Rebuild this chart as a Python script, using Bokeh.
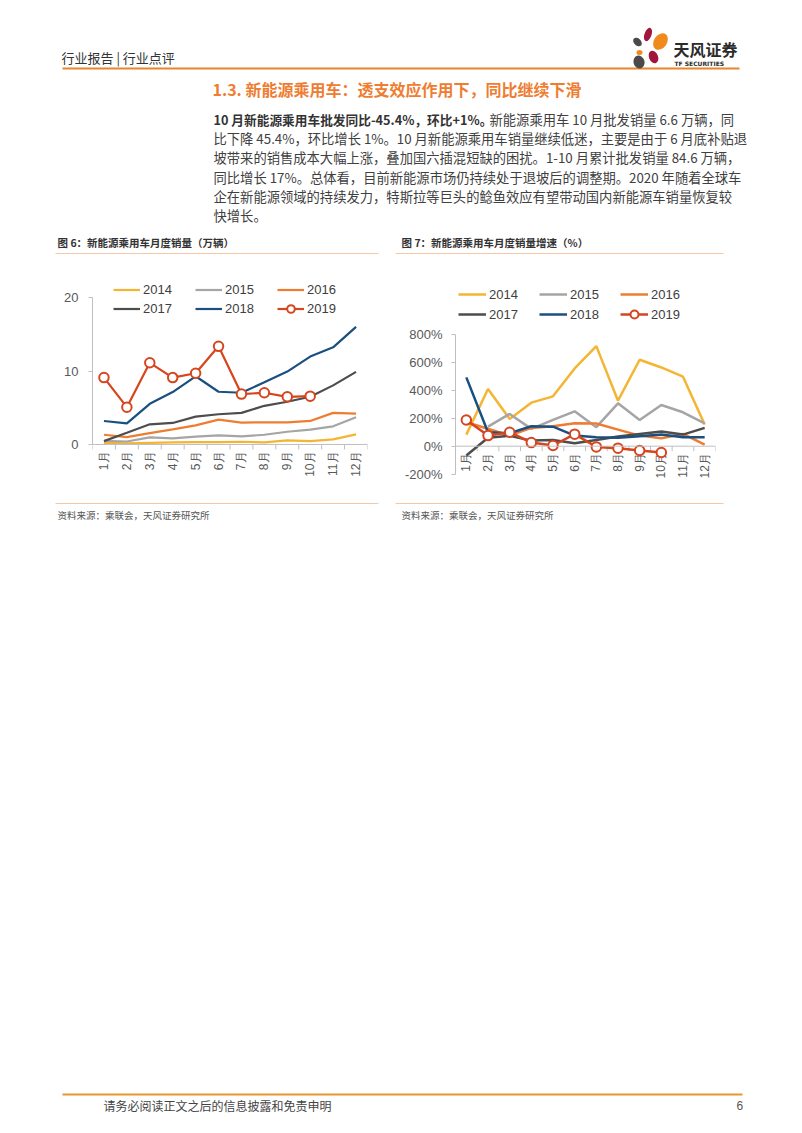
import math
from bokeh.plotting import figure
from bokeh.models import Range1d, FixedTicker, Legend, LegendItem, PrintfTickFormatter, Span
from bokeh.layouts import column, row
from bokeh.embed import file_html
from bokeh.resources import INLINE
from bokeh.core.properties import value

# ---------------- data ----------------
months = ["1月", "2月", "3月", "4月", "5月", "6月", "7月", "8月", "9月", "10月", "11月", "12月"]
month_pos = list(range(1, 13))
month_edges = [i + 0.5 for i in range(0, 13)]
years = ["2014", "2015", "2016", "2017", "2018", "2019"]

# 图6 新能源乘用车月度销量（万辆）
sales_2014 = [0.23, 0.14, 0.23, 0.28, 0.32, 0.32, 0.37, 0.28, 0.55, 0.46, 0.69, 1.38]
sales_2015 = [0.50, 0.41, 0.96, 0.83, 1.06, 1.24, 1.10, 1.33, 1.74, 2.02, 2.48, 3.72]
sales_2016 = [1.33, 1.01, 1.56, 2.06, 2.61, 3.39, 2.98, 3.03, 3.03, 3.21, 4.31, 4.22]
sales_2017 = [0.46, 1.60, 2.75, 2.94, 3.81, 4.13, 4.31, 5.28, 5.83, 6.51, 8.07, 9.91]
sales_2018 = [3.21, 2.89, 5.55, 7.16, 9.31, 7.20, 7.06, 8.49, 9.95, 12.00, 13.26, 16.06]
sales_2019 = [9.13, 5.09, 11.15, 9.13, 9.72, 13.40, 6.88, 7.06, 6.51, 6.60]

# 图7 新能源乘用车月度销量增速（%）
growth_2014 = [83, 410, 195, 312, 357, 557, 717, 326, 619, 564, 498, 155]
growth_2015 = [float("nan"), 140, 231, 124, 188, 250, 136, 307, 188, 295, 243, 164]
growth_2016 = [171, 125, 76, 131, 143, 164, 162, 119, 76, 57, 88, 12]
growth_2017 = [-67, 60, 74, 40, 45, 21, 45, 69, 88, 105, 83, 131]
growth_2018 = [493, 100, 93, 143, 140, 76, 64, 60, 71, 83, 64, 64]
growth_2019 = [188, 76, 100, 26, 5, 86, -5, -14, -31, -45]

sales_ticks = [0, 10, 20]
growth_ticks = [-200, 0, 200, 400, 600, 800]

colors = ["#F4B533", "#A5A5A5", "#EE7D31", "#4D4D4D", "#1B4F7F", "#D6451D"]

CJK = value("Noto Sans CJK SC")
NUM = value("Liberation Sans")
NUM_S = "Liberation Sans"
AXIS_C = "#BFBFBF"
LABEL_C = "#595959"

# ---------------- helpers ----------------
def text_fig(h, y_top, y_bottom):
    f = figure(width=802, height=h, x_range=Range1d(0, 802), y_range=Range1d(y_bottom, y_top),
               x_axis_type=None, y_axis_type=None, output_backend="svg",
               toolbar_location=None, min_border=0)
    f.outline_line_color = None
    f.grid.visible = False
    return f


def txt(f, x, y, s, size, color="#333333", bold=False, align="left", font=CJK):
    f.text(x=[x], y=[y], text=[s], text_font=font, text_font_size=size,
           text_color=color, text_baseline="middle", text_align=align,
           text_font_style="bold" if bold else "normal")


def chart(width, y_start, y_end, left, right):
    p = figure(width=width, height=242, x_range=Range1d(0.5, 12.5),
               y_range=Range1d(y_start, y_end), output_backend="svg",
               toolbar_location=None, x_axis_location=None,
               min_border_left=left, min_border_right=right,
               min_border_top=0, min_border_bottom=18)
    p.outline_line_color = None
    p.grid.visible = False
    p.background_fill_color = "white"
    y = p.yaxis[0]
    y.axis_line_color = AXIS_C
    y.major_tick_line_color = AXIS_C
    y.minor_tick_line_color = None
    y.major_label_text_color = LABEL_C
    y.major_tick_out = 4
    y.major_tick_in = 0
    y.major_label_text_font = NUM_S
    y.major_label_text_font_size = "13px"
    # category axis drawn at value 0
    p.add_layout(Span(location=0, dimension="width", line_color=AXIS_C, line_width=1))
    p.ray(x=month_edges, y=[0] * len(month_edges), length=5, length_units="screen",
          angle=-math.pi / 2, line_color=AXIS_C, line_width=1)
    p.text(x=month_pos, y=[0] * 12, text=months, angle=math.pi / 2, text_align="right",
           text_baseline="middle", y_offset=7, text_font=NUM, text_font_size="12px",
           text_color=LABEL_C)
    return p


def add_series(p, series, lw, legend_pos, glyph_w, label_w, row_h):
    items = []
    for name, data, col in zip(years, series, colors):
        xs = month_pos[:len(data)]
        r = p.line(xs, data, line_color=col, line_width=lw)
        rends = [r]
        if name == "2019":
            c = p.scatter(xs, data, marker="circle", size=9.5, fill_color="white",
                          line_color=col, line_width=2)
            rends.append(c)
        items.append(LegendItem(label=name, renderers=rends))
    leg = Legend(items=items, location=legend_pos, orientation="horizontal", ncols=3,
                 padding=0, spacing=0, margin=0, border_line_color=None,
                 background_fill_alpha=0, glyph_width=glyph_w, glyph_height=row_h,
                 label_height=row_h, label_width=label_w, label_standoff=3,
                 label_text_font=NUM_S, label_text_font_size="13px",
                 label_text_color="#404040")
    p.add_layout(leg, "center")


# ---------------- top text block ----------------
top = text_fig(258, 0, 258)
txt(top, 61, 57, "行业报告  |  行业点评", "13px", "#333333")
top.line([62, 739], [68, 68], line_color="#E8862A", line_width=2)
# logo
top.ellipse(x=[647.5], y=[34], width=[7], height=[14], angle=[-0.35], fill_color="#A3163C", line_color=None)
top.ellipse(x=[637], y=[41.5], width=[7], height=[10], angle=[0.8], fill_color="#4A4A4A", line_color=None)
top.ellipse(x=[660], y=[41], width=[13], height=[18], angle=[-0.6], fill_color="#F08A1C", line_color=None)
top.ellipse(x=[639], y=[52], width=[6], height=[5], angle=[0.0], fill_color="#F08A1C", line_color=None)
top.ellipse(x=[638.5], y=[61.5], width=[11], height=[13], angle=[0.3], fill_color="#4A4A4A", line_color=None)
top.ellipse(x=[653], y=[56.5], width=[9], height=[13], angle=[0.4], fill_color="#A3163C", line_color=None)
txt(top, 673, 48.5, "天风证券", "16px", "#2B2B2B", bold=True)
txt(top, 674, 63, "TF SECURITIES", "6px", "#2B2B2B", bold=True, font=value("DejaVu Sans"))

txt(top, 212, 88, "1.3. 新能源乘用车：透支效应作用下，同比继续下滑", "16px", "#EE7D31", bold=True)

para = [
    "比下降 45.4%，环比增长 1%。10 月新能源乘用车销量继续低迷，主要是由于 6 月底补贴退",
    "坡带来的销售成本大幅上涨，叠加国六插混短缺的困扰。1-10 月累计批发销量 84.6 万辆，",
    "同比增长 17%。总体看，目前新能源市场仍持续处于退坡后的调整期。2020 年随着全球车",
    "企在新能源领域的持续发力，特斯拉等巨头的鲶鱼效应有望带动国内新能源车销量恢复较",
    "快增长。",
]
line_y = [119, 138.2, 157.4, 176.6, 195.8, 215]
txt(top, 213, line_y[0], "10 月新能源乘用车批发同比-45.4%，环比+1%。", "12.7px", "#333333", bold=True)
txt(top, 489, line_y[0], "新能源乘用车 10 月批发销量 6.6 万辆，同", "13.3px", "#404040")
for yy, s in zip(line_y[1:], para):
    txt(top, 213, yy, s, "13.3px", "#404040")

txt(top, 57, 242, "图 6：新能源乘用车月度销量（万辆）", "10.5px", "#333333", bold=True)
txt(top, 401, 242, "图 7：新能源乘用车月度销量增速（%）", "10.5px", "#333333", bold=True)
top.line([55, 378], [253, 253], line_color="#F6C8A6", line_width=1)
top.line([395, 723], [253, 253], line_color="#F6C8A6", line_width=1)

# ---------------- chart 1 ----------------
p1 = chart(392, -5.19, 25.39, 92, 25)
p1.yaxis[0].ticker = FixedTicker(ticks=sales_ticks)
p1.yaxis[0].bounds = (0, 20)
p1.yaxis[0].major_label_standoff = 10
add_series(p1, [sales_2014, sales_2015, sales_2016, sales_2017, sales_2018, sales_2019],
           2.2, (21, 164.5), 27, 52, 19)

# ---------------- chart 2 ----------------
p2 = chart(410, -260, 1344.3, 63, 87)
p2.yaxis[0].ticker = FixedTicker(ticks=growth_ticks)
p2.yaxis[0].bounds = (-200, 800)
p2.yaxis[0].formatter = PrintfTickFormatter(format="%d%%")
p2.yaxis[0].major_label_standoff = 9
add_series(p2, [growth_2014, growth_2015, growth_2016, growth_2017, growth_2018, growth_2019],
           2.5, (3, 158), 28, 50, 20)

# ---------------- bottom block ----------------
bot = text_fig(633, 500, 1133)
bot.line([55, 378], [503, 503], line_color="#F6C8A6", line_width=1)
bot.line([395, 723], [503, 503], line_color="#F6C8A6", line_width=1)
txt(bot, 57, 514, "资料来源：乘联会，天风证券研究所", "9.5px", "#555555")
txt(bot, 401, 514, "资料来源：乘联会，天风证券研究所", "9.5px", "#555555")
bot.line([62, 742], [1094, 1094], line_color="#E8962E", line_width=2)
txt(bot, 103, 1105, "请务必阅读正文之后的信息披露和免责申明", "12px", "#444444")
txt(bot, 736, 1105, "6", "12px", "#555555", font=NUM)

page = column(top, row(p1, p2, spacing=0), bot, spacing=0)

with open("out.html", "w") as fh:
    fh.write(file_html(page, INLINE))
